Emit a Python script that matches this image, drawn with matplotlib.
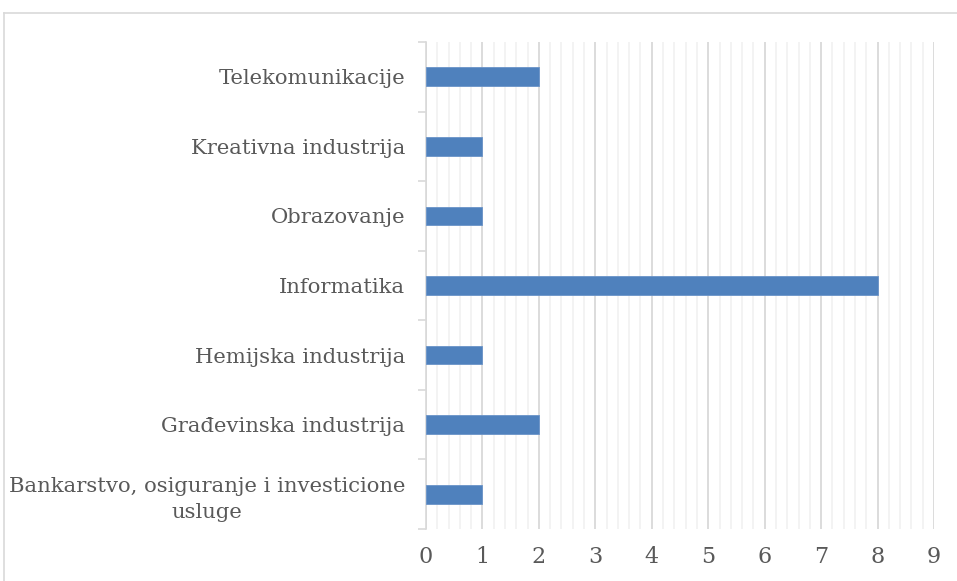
import numpy as np
import matplotlib.pyplot as plt
from matplotlib.lines import Line2D
from matplotlib.ticker import MultipleLocator

kategorije = ['Bankarstvo, osiguranje i investicione\nusluge',
              'Građevinska industrija',
              'Hemijska industrija',
              'Informatika',
              'Obrazovanje',
              'Kreativna industrija',
              'Telekomunikacije']
vrijednosti = [1, 2, 1, 8, 1, 1, 2]

plt.rcParams['font.family'] = ['DejaVu Serif']

fig = plt.figure(figsize=(9.57, 5.81), dpi=100)
ax = fig.add_axes([0.4451, 0.0895, 0.976 - 0.4451, 0.9277 - 0.0895])

y = np.arange(len(kategorije))
ax.barh(y, vrijednosti, height=0.27, color='#4F81BD', edgecolor='#6A93C8',
        linewidth=0.6, zorder=3)

ax.set_xlim(0, 9)
ax.set_ylim(-0.5, len(kategorije) - 0.5)
ax.xaxis.set_major_locator(MultipleLocator(1))
ax.xaxis.set_minor_locator(MultipleLocator(0.2))
ax.grid(which='major', axis='x', color='#D9D9D9', linewidth=1.3, zorder=0)
ax.grid(which='minor', axis='x', color='#F2F2F2', linewidth=1.3, zorder=0)

ax.set_yticks(y)
ax.set_yticklabels(kategorije, multialignment='center', linespacing=1.45)
ax.set_yticks(np.arange(-0.5, len(kategorije)), minor=True)
ax.tick_params(axis='y', which='major', length=0, pad=15, labelsize=15.2,
               labelcolor='#595959')
ax.tick_params(axis='y', which='minor', length=6, color='#D9D9D9', width=1.2)
ax.tick_params(axis='x', which='both', length=0, pad=12, labelsize=16,
               labelcolor='#595959')

for s in ['top', 'right', 'bottom']:
    ax.spines[s].set_visible(False)
ax.spines['left'].set_color('#D9D9D9')
ax.spines['left'].set_linewidth(1.2)

# okvir grafikona
x0, y0 = 4 / 957, 1 - 13 / 581
fig.add_artist(Line2D([x0, 1.0], [y0, y0], color='#D9D9D9', linewidth=1.2))
fig.add_artist(Line2D([x0, x0], [0.0, y0], color='#D9D9D9', linewidth=1.2))

plt.savefig('out.png', dpi=100)
